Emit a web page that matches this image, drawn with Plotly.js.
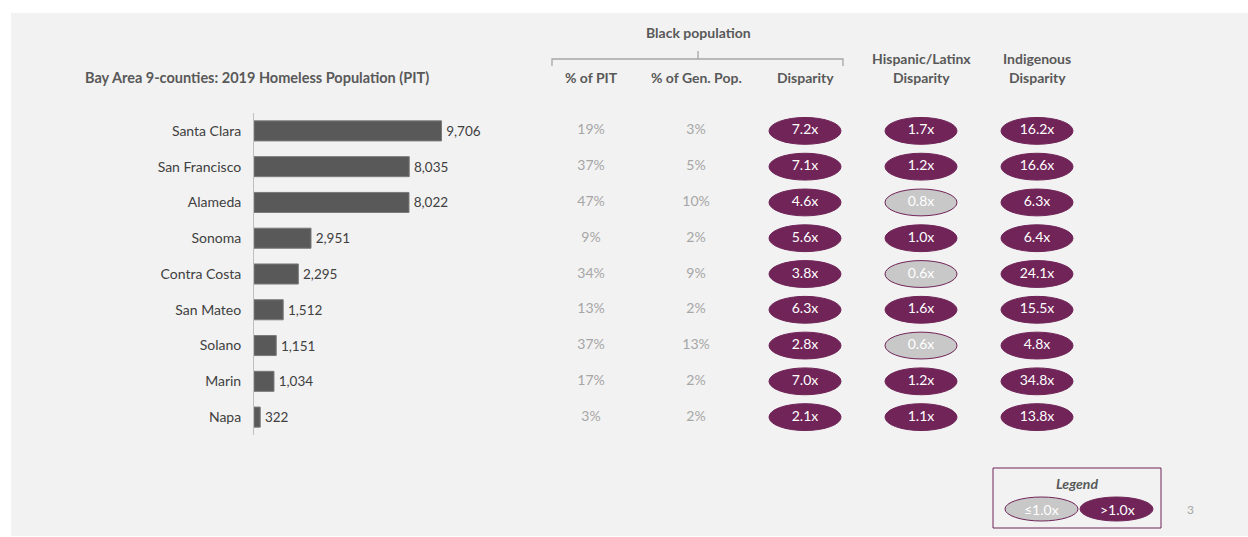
<!DOCTYPE html>
<html><head><meta charset="utf-8">
<script src="https://cdn.plot.ly/plotly-3.0.1.min.js"></script>
<style>html,body{margin:0;padding:0;background:#fff}#chart{width:1248px;height:537px}</style>
</head><body><div id="chart"></div>
<script>
// ---- data ----
const counties = ["Santa Clara","San Francisco","Alameda","Sonoma","Contra Costa","San Mateo","Solano","Marin","Napa"];
const homeless = [9706, 8035, 8022, 2951, 2295, 1512, 1151, 1034, 322];
const blackPctPIT = [19, 37, 47, 9, 34, 13, 37, 17, 3];
const blackPctGenPop = [3, 5, 10, 2, 9, 2, 13, 2, 2];
const blackDisparity = [7.2, 7.1, 4.6, 5.6, 3.8, 6.3, 2.8, 7.0, 2.1];
const hispanicDisparity = [1.7, 1.2, 0.8, 1.0, 0.6, 1.6, 0.6, 1.2, 1.1];
const indigenousDisparity = [16.2, 16.6, 6.3, 6.4, 24.1, 15.5, 4.8, 34.8, 13.8];

// ---- style / layout constants ----
const W = 1248, H = 537;
const FONT = "Lato, 'Open Sans', sans-serif";
const PURPLE = "#702458";
const GREYFILL = "#c8c8c8";
const colX = [591, 696, 805, 921, 1037]; // column centres in px (x2 axis = pixels)
const px = x => x / W;
const py = y => 1 - y / H;

const fmt = v => v.toLocaleString("en-US");

const traces = [];
traces.push({
  type: "bar", orientation: "h",
  x: homeless, y: counties,
  marker: {color: "#595959", line: {color: "#7a7a7a", width: 1}},
  text: homeless.map(v => "\u2009" + fmt(v)), textposition: "outside", cliponaxis: false,
  textfont: {family: FONT, size: 13.5, color: "#404040"},
  hoverinfo: "skip", xaxis: "x", yaxis: "y"
});
function textCol(col, vals, color) {
  traces.push({
    type: "scatter", mode: "text", xaxis: "x2", yaxis: "y",
    x: vals.map(() => colX[col]), y: counties,
    text: vals, textposition: "middle center",
    textfont: {family: FONT, size: 14, color: color},
    hoverinfo: "skip", cliponaxis: false
  });
}
textCol(0, blackPctPIT.map(v => v + "%"), "#a6a6a6");
textCol(1, blackPctGenPop.map(v => v + "%"), "#a6a6a6");
textCol(2, blackDisparity.map(v => v.toFixed(1) + "x"), "#ffffff");
textCol(3, hispanicDisparity.map(v => v.toFixed(1) + "x"), "#ffffff");
textCol(4, indigenousDisparity.map(v => v.toFixed(1) + "x"), "#ffffff");

const shapes = [];
// slide background
shapes.push({type: "rect", xref: "paper", yref: "paper", x0: px(11), x1: px(1248), y0: py(536), y1: py(13),
  fillcolor: "#f2f2f2", line: {width: 0}, layer: "below"});
// disparity ellipses (rounded 1.0x values in the source are shown as above parity)
function ellipses(col, vals) {
  vals.forEach((v, i) => {
    const hi = v >= 1.0;
    shapes.push({type: "circle", xref: "x2", yref: "y",
      x0: colX[col] - 36, x1: colX[col] + 36, y0: i - 0.375, y1: i + 0.375,
      fillcolor: hi ? PURPLE : GREYFILL, line: {color: PURPLE, width: 1}, layer: "below"});
  });
}
ellipses(2, blackDisparity);
ellipses(3, hispanicDisparity);
ellipses(4, indigenousDisparity);
// bracket over Black population
const bc = {color: "#a6a6a6", width: 1.3};
shapes.push({type: "path", xref: "paper", yref: "paper",
  path: `M ${px(552)} ${py(66)} L ${px(552)} ${py(59)} L ${px(843)} ${py(59)} L ${px(843)} ${py(66)}`, line: bc});
shapes.push({type: "line", xref: "paper", yref: "paper", x0: px(698), x1: px(698), y0: py(59), y1: py(51), line: bc});
// legend box
shapes.push({type: "rect", xref: "paper", yref: "paper", x0: px(993), x1: px(1161), y0: py(528), y1: py(468),
  line: {color: PURPLE, width: 1}});
shapes.push({type: "circle", xref: "paper", yref: "paper", x0: px(1005), x1: px(1078), y0: py(521), y1: py(497),
  fillcolor: GREYFILL, line: {color: PURPLE, width: 1}});
shapes.push({type: "circle", xref: "paper", yref: "paper", x0: px(1080), x1: px(1153), y0: py(521), y1: py(497),
  fillcolor: PURPLE, line: {color: PURPLE, width: 1}});

const hdr = {family: FONT, size: 14, color: "#595959"};
function ann(x, y, text, font, extra) {
  return Object.assign({xref: "paper", yref: "paper", x: px(x), y: py(y), text: text, showarrow: false,
    xanchor: "center", yanchor: "middle", font: font}, extra || {});
}
const annotations = [
  ann(83, 77, "<b>Bay Area 9-counties: 2019 Homeless Population (PIT)</b>", {family: FONT, size: 14.5, color: "#595959"}, {xanchor: "left"}),
  ann(698, 33, "<b>Black population</b>", hdr),
  ann(591, 77, "<b>% of PIT</b>", hdr),
  ann(696, 77, "<b>% of Gen. Pop.</b>", hdr),
  ann(805, 77, "<b>Disparity</b>", hdr),
  ann(921, 58, "<b>Hispanic/Latinx</b>", hdr),
  ann(921, 78, "<b>Disparity</b>", hdr),
  ann(1037, 58, "<b>Indigenous</b>", hdr),
  ann(1037, 78, "<b>Disparity</b>", hdr),
  ann(1077, 483, "<b><i>Legend</i></b>", hdr),
  ann(1041.5, 509, "≤1.0x", {family: FONT, size: 14, color: "#ffffff"}),
  ann(1117, 509, ">1.0x", {family: FONT, size: 14, color: "#ffffff"}),
  ann(1190, 509, "3", {family: FONT, size: 12, color: "#a6a6a6"})
];

const layout = {
  width: W, height: H, margin: {l: 0, r: 0, t: 0, b: 0},
  paper_bgcolor: "#ffffff", plot_bgcolor: "rgba(0,0,0,0)",
  showlegend: false, bargap: 0.44,
  font: {family: FONT},
  xaxis: {domain: [px(254), px(254 + 193.2)], range: [0, 10000], anchor: "y",
    showgrid: false, zeroline: false, showticklabels: false, ticks: "", showline: false},
  yaxis: {domain: [py(435), py(113)], type: "category", range: [8.5, -0.5], anchor: "x",
    showgrid: false, zeroline: false, showline: true, linecolor: "#bfbfbf", linewidth: 1,
    ticks: "", ticklabelstandoff: 9,
    tickfont: {family: FONT, size: 14, color: "#404040"}},
  xaxis2: {domain: [0, 1], range: [0, W], anchor: "y", visible: false, showgrid: false, zeroline: false},
  shapes: shapes, annotations: annotations
};
Plotly.newPlot("chart", traces, layout, {staticPlot: true, displayModeBar: false});
</script></body></html>
